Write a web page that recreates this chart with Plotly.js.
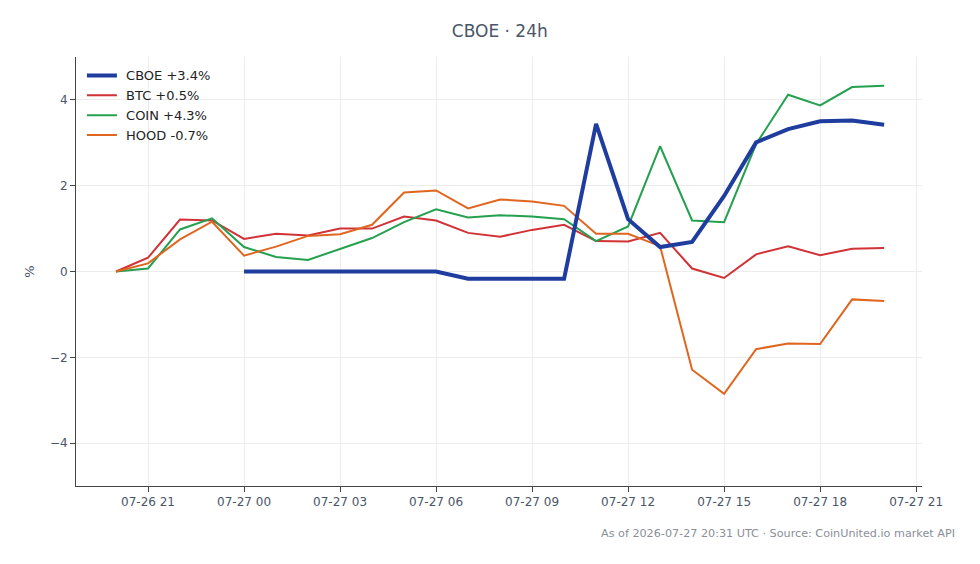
<!DOCTYPE html>
<html>
<head>
<meta charset="utf-8">
<script src="https://cdn.plot.ly/plotly-3.0.1.min.js"></script>
<style>html,body{margin:0;padding:0;background:#fff;}#chart{width:980px;height:564px;}</style>
</head>
<body>
<div id="chart"></div>
<script>
const times = ["2026-07-26 20:00","2026-07-26 21:00","2026-07-26 22:00","2026-07-26 23:00",
  "2026-07-27 00:00","2026-07-27 01:00","2026-07-27 02:00","2026-07-27 03:00","2026-07-27 04:00",
  "2026-07-27 05:00","2026-07-27 06:00","2026-07-27 07:00","2026-07-27 08:00","2026-07-27 09:00",
  "2026-07-27 10:00","2026-07-27 11:00","2026-07-27 12:00","2026-07-27 13:00","2026-07-27 14:00",
  "2026-07-27 15:00","2026-07-27 16:00","2026-07-27 17:00","2026-07-27 18:00","2026-07-27 19:00",
  "2026-07-27 20:00"];
const cboe = [null,null,null,null,0,0,0,0,0,0,0,-0.17,-0.17,-0.17,-0.17,3.44,1.22,0.57,0.69,1.76,3.01,3.32,3.50,3.52,3.42];
const btc  = [0,0.32,1.21,1.19,0.76,0.88,0.84,1.0,1.0,1.28,1.19,0.90,0.81,0.97,1.09,0.71,0.70,0.90,0.07,-0.15,0.40,0.59,0.38,0.53,0.55];
const coin = [0,0.07,0.98,1.24,0.57,0.34,0.27,0.53,0.78,1.15,1.45,1.26,1.31,1.28,1.22,0.71,1.05,2.92,1.19,1.15,2.97,4.12,3.87,4.30,4.33];
const hood = [0,0.19,0.75,1.16,0.37,0.58,0.83,0.87,1.09,1.84,1.89,1.47,1.68,1.63,1.53,0.88,0.88,0.59,-2.29,-2.85,-1.81,-1.68,-1.69,-0.65,-0.69];
const names = ["CBOE +3.4%","BTC +0.5%","COIN +4.3%","HOOD -0.7%"];
const colors = ["#1f3d9e","#d03236","#24a04f","#e0661f"];
const widths = [4,2,2,2];
const series = [cboe,btc,coin,hood];

const traces = series.map((s,i)=>({
  x: times, y: s, type: "scatter", mode: "lines", name: "\u00a0" + names[i],
  line: {color: colors[i], width: widths[i]}, connectgaps: false, legendrank: i + 1
}));
// draw CBOE on top
const data = [traces[1],traces[2],traces[3],traces[0]];
const font = "DejaVu Sans, sans-serif";
const layout = {
  width: 980, height: 564,
  margin: {l: 76, r: 58, t: 57, b: 78},
  paper_bgcolor: "#fff", plot_bgcolor: "#fff",
  font: {family: font, size: 13, color: "#4a5568"},
  title: {text: "CBOE · 24h", x: 0.51, xanchor: "center", xref: "container",
          y: 1 - 31/564, yanchor: "middle", yref: "container",
          font: {family: font, size: 17, color: "#4a5568"}},
  showlegend: true,
  legend: {x: 0.007, y: 0.992, xanchor: "left", yanchor: "top", bgcolor: "rgba(0,0,0,0)",
           font: {family: font, size: 13, color: "#222"}, traceorder: "normal", tracegroupgap: 0},
  xaxis: {
    type: "date", range: ["2026-07-26 18:45","2026-07-27 21:11"],
    tick0: "2026-07-26 21:00", dtick: 10800000, tickformat: "%m-%d %H",
    showgrid: true, gridcolor: "#ececec", gridwidth: 1,
    showline: true, linecolor: "#444", linewidth: 1,
    ticks: "outside", ticklen: 5, tickcolor: "#444",
    tickfont: {family: font, size: 12, color: "#4a5568"}, zeroline: false
  },
  yaxis: {
    range: [-5, 5], dtick: 2, tick0: 0,
    showgrid: true, gridcolor: "#ececec", gridwidth: 1,
    showline: true, linecolor: "#444", linewidth: 1,
    ticks: "outside", ticklen: 5, tickcolor: "#444",
    tickfont: {family: font, size: 12, color: "#4a5568"}, zeroline: false,
    title: {text: "%", standoff: 12, font: {family: font, size: 13, color: "#4a5568"}}
  },
  shapes: [{type: "line", xref: "paper", x0: 0, x1: 1, yref: "y", y0: 0, y1: 0,
            line: {color: "#8a9bb0", width: 1, dash: "dash"}, layer: "below"}],
  annotations: [{text: "As of 2026-07-27 20:31 UTC · Source: CoinUnited.io market API",
    xref: "paper", yref: "paper", x: 1.041, y: -0.1096, xanchor: "right", yanchor: "middle",
    showarrow: false, font: {family: font, size: 11.2, color: "#8a8f98"}}]
};
Plotly.newPlot("chart", data, layout, {displayModeBar: false, staticPlot: true});
</script>
</body>
</html>
